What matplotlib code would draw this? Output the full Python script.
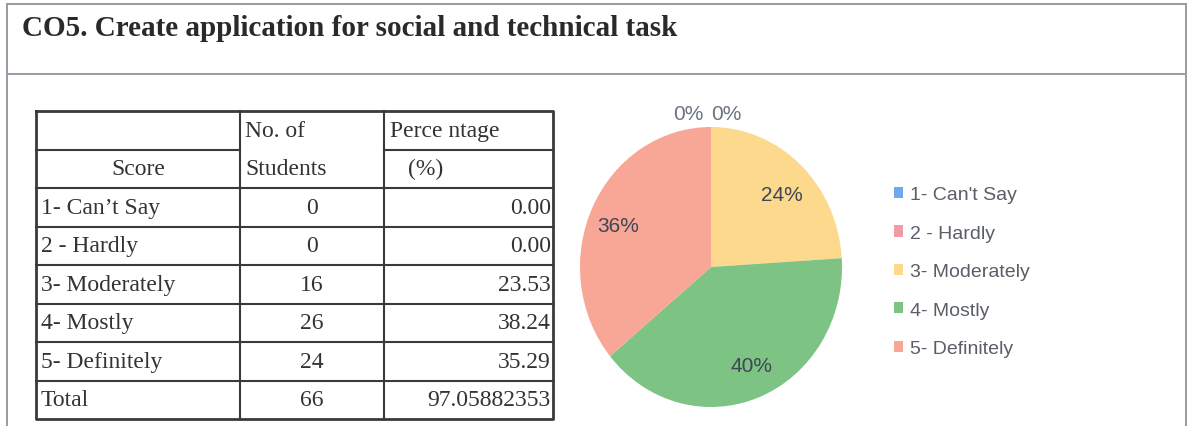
import matplotlib.pyplot as plt
import numpy as np

# ------------------------------------------------------------
# Survey results for CO5
title = "CO5. Create application for social and technical task"
scores = ["1- Can\u2019t Say", "2 - Hardly", "3- Moderately", "4- Mostly", "5- Definitely"]
students = [0, 0, 16, 26, 24]
percent = [0.00, 0.00, 23.53, 38.24, 35.29]
percent_total = 97.05882353
# rounded shares printed on the pie
pie_pct = [0, 0, 24, 40, 36]
pie_colors = ["#6fa8ee", "#f19ba6", "#fcd98c", "#7cc384", "#f8a796"]
# ------------------------------------------------------------

W, H = 1188, 427
fig = plt.figure(figsize=(W / 100, H / 100), dpi=100)
fig.patch.set_facecolor("white")

# overlay axes in pixel units for the page frame and table
ax = fig.add_axes([0, 0, 1, 1])
ax.set_xlim(0, W)
ax.set_ylim(H, 0)
ax.axis("off")

frame_col = "#9a9aa2"
ax.plot([7, 1186], [5, 5], color=frame_col, lw=1.4)
ax.plot([7, 1186], [75, 75], color=frame_col, lw=1.4)
ax.plot([7, 7], [5, H], color=frame_col, lw=1.4)
ax.plot([1186, 1186], [5, H], color=frame_col, lw=1.4)
ax.text(22, 28, title, fontsize=21, fontweight="bold", family="Liberation Serif",
        color="#2a2a2a", va="center", ha="left")

# table grid
tl, tr = 36, 553
c1, c2 = 240, 384
top, rh = 112, 38.5
nrows = len(scores) + 1
y_hdr = top + rh            # split line inside header
y_body = top + 2 * rh        # first data row
y_bot = y_body + nrows * rh
line_col = "#3a3a3a"
ax.plot([tl, tr, tr, tl, tl], [top, top, y_bot, y_bot, top], color=line_col, lw=2)
for x in (c1, c2):
    ax.plot([x, x], [top, y_bot], color=line_col, lw=1.5)
ax.plot([tl, c1], [y_hdr, y_hdr], color=line_col, lw=1.5)
ax.plot([c2, tr], [y_hdr, y_hdr], color=line_col, lw=1.5)
for i in range(nrows):
    y = y_body + i * rh
    ax.plot([tl, tr], [y, y], color=line_col, lw=1.5)

tfont = dict(family="Liberation Serif", fontsize=17, color="#333333", va="center")
ax.text((tl + c1) / 2, y_hdr + rh / 2, "Score", ha="center", **tfont)
ax.text(c1 + 5, top + rh / 2, "No. of", ha="left", **tfont)
ax.text(c1 + 5, y_hdr + rh / 2, "Students", ha="left", **tfont)
ax.text(c2 + 6, top + rh / 2, "Perce ntage", ha="left", **tfont)
ax.text(c2 + 24, y_hdr + rh / 2, "(%)", ha="left", **tfont)

for i, (s, n, p) in enumerate(zip(scores, students, percent)):
    yc = y_body + (i + 0.5) * rh
    ax.text(tl + 5, yc, s, ha="left", **tfont)
    ax.text((c1 + c2) / 2, yc, f"{n}", ha="center", **tfont)
    ax.text(tr - 2, yc, f"{p:.2f}", ha="right", **tfont)
yc = y_body + (len(scores) + 0.5) * rh
ax.text(tl + 5, yc, "Total", ha="left", **tfont)
ax.text((c1 + c2) / 2, yc, f"{sum(students)}", ha="center", **tfont)
ax.text(tr - 2, yc, f"{percent_total:.8f}", ha="right", **tfont)

# pie chart
cx, cy, rx, ry = 711, 268, 131, 140
pax = fig.add_axes([(cx - rx) / W, (H - cy - ry) / H, 2 * rx / W, 2 * ry / H])
wedges, _ = pax.pie(pie_pct, colors=pie_colors, startangle=90, counterclock=False,
                    radius=1, wedgeprops=dict(linewidth=0))
pax.set_aspect("auto")
pax.set_xlim(-1, 1)
pax.set_ylim(-1, 1)

lab_font = dict(family="Liberation Sans", fontsize=15, ha="center", va="center")
label_dist = [0, 0, 0.75, 0.8, 0.74]
for w, v, d in zip(wedges, pie_pct, label_dist):
    if v == 0:
        continue
    mid = np.deg2rad((w.theta1 + w.theta2) / 2)
    pax.text(d * np.cos(mid) * 1.06, d * np.sin(mid) * 0.95, f"{v}%", color="#3f4656", **lab_font)
# the two empty slices sit at the top, labelled side by side
for v, dx in zip(pie_pct[:2], (-0.17, 0.12)):
    pax.text(dx, 1.1, f"{v}%", color="#6b7282", **lab_font)

leg = fig.legend(wedges, [s.replace("\u2019", "'") for s in scores],
                 loc="upper left", bbox_to_anchor=(876 / W, 1 - 170 / H),
                 frameon=False, handlelength=0.5, handleheight=0.5,
                 handletextpad=0.35, labelspacing=1.1, prop=dict(family="Liberation Sans", size=14))
for t in leg.get_texts():
    t.set_color("#5a5e66")

fig.savefig("out.png", dpi=100, facecolor="white")
